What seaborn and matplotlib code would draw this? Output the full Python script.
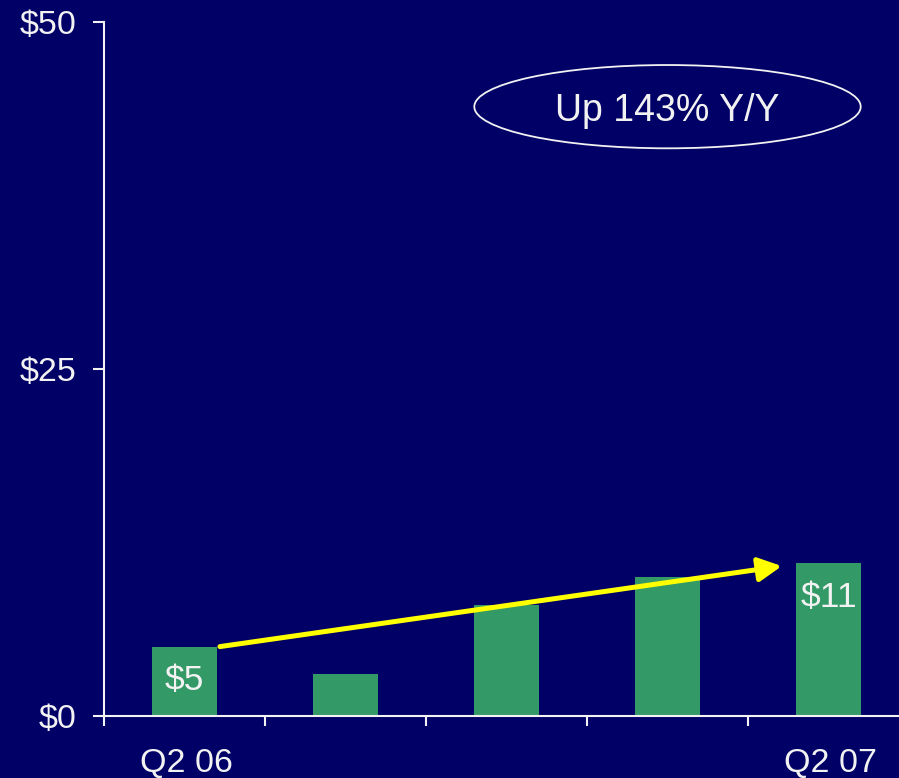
import matplotlib
matplotlib.use("Agg")
import matplotlib.pyplot as plt
import seaborn as sns
import pandas as pd
from matplotlib.patches import Ellipse

# Quarterly revenue ($M)
quarters = ["Q2 06", "Q3 06", "Q4 06", "Q1 07", "Q2 07"]
revenue = [5, 3, 8, 10, 11]
x_tick_labels = ["Q2 06", "", "", "", "Q2 07"]
y_ticks = [0, 25, 50]
y_tick_labels = ["$0", "$25", "$50"]
value_labels = {0: "$5", 4: "$11"}
callout = "Up 143% Y/Y"

BG = "#000066"
GREEN = "#339966"
FG = "#F2F2F2"
YELLOW = "#FFFF00"

sns.set_theme(style="ticks")
plt.rcParams["font.family"] = ["Liberation Sans", "DejaVu Sans"]

fig = plt.figure(figsize=(8.99, 7.78), dpi=100, facecolor=BG)
ax = fig.add_axes([104 / 899, 62 / 778, 805 / 899, 694 / 778])
ax.set_facecolor(BG)

df = pd.DataFrame({"quarter": quarters, "revenue": revenue})
sns.barplot(data=df, x="quarter", y="revenue", color=GREEN, saturation=1,
            width=0.4, linewidth=0, edgecolor=GREEN, ax=ax)

ax.set_xlim(-0.5, 4.5)
ax.set_ylim(0, 50)
ax.set_xlabel("")
ax.set_ylabel("")

# spines
for side in ("top", "right"):
    ax.spines[side].set_visible(False)
for side in ("left", "bottom"):
    ax.spines[side].set_color(FG)
    ax.spines[side].set_linewidth(1.5)

# y axis
ax.set_yticks(y_ticks)
ax.set_yticklabels(y_tick_labels)
ax.tick_params(axis="y", direction="out", length=8, width=1.5, color=FG,
               labelcolor=FG, labelsize=24.5, pad=12)

# x axis: labels at category centres, tick marks at category boundaries
ax.set_xticks(range(len(quarters)))
ax.set_xticklabels(x_tick_labels)
ax.set_xticks([i - 0.5 for i in range(len(quarters))], minor=True)
ax.tick_params(axis="x", which="major", length=0, labelcolor=FG,
               labelsize=24.5, pad=23)
ax.tick_params(axis="x", which="minor", direction="out", length=7,
               width=1.5, color=FG)
for lbl in ax.get_xticklabels():
    lbl.set_x(lbl.get_position()[0])
    lbl.set_transform(lbl.get_transform() +
                      matplotlib.transforms.ScaledTranslation(2 / 100, 0, fig.dpi_scale_trans))

# value labels inside bars
for i, txt in value_labels.items():
    ax.annotate(txt, xy=(i, revenue[i]), xytext=(0, -34),
                textcoords="offset pixels", ha="center", va="center",
                color=FG, fontsize=25.5)

# growth arrow from first to last quarter
ax.annotate("", xy=(4 - 0.29, revenue[4] - 0.2), xytext=(0 + 0.22, revenue[0]),
            arrowprops=dict(arrowstyle="-|>,head_length=0.7,head_width=0.36",
                            mutation_scale=20, color=YELLOW, lw=3.6,
                            shrinkA=0, shrinkB=0))

# callout bubble
ax.add_patch(Ellipse((3.0, 43.9), 2.4, 6.0, facecolor="none",
                     edgecolor=FG, lw=1.3, transform=ax.transData,
                     clip_on=False))
ax.text(3.0, 43.6, callout, ha="center", va="center", color=FG, fontsize=27)

fig.savefig("out.png", dpi=100, facecolor=BG)
